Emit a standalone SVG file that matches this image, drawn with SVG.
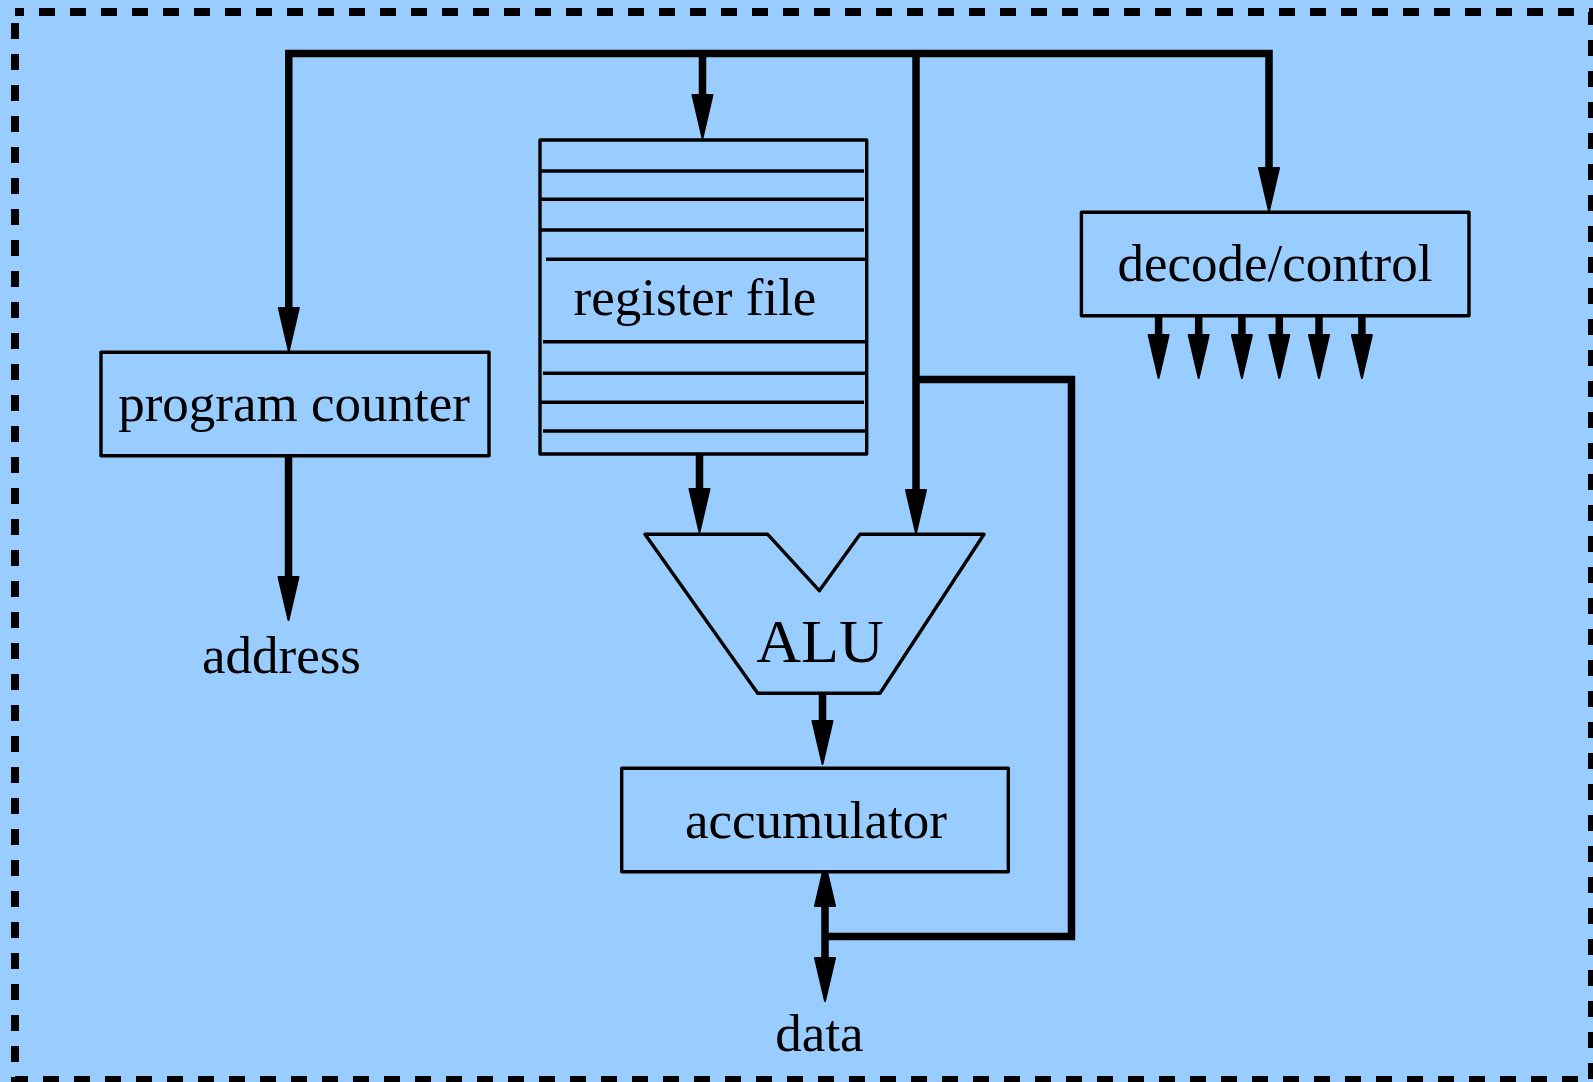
<svg xmlns="http://www.w3.org/2000/svg" width="1593" height="1082" viewBox="0 0 1593 1082">
  <style>
    .bg { fill: #99ccff; }
    .frame { fill: none; stroke: #000; stroke-width: 8; stroke-dasharray: 16 15; stroke-dashoffset: 7; }
    .box { fill: #99ccff; stroke: #000; stroke-width: 3.4; stroke-linejoin: round; }
    .rule { stroke: #000; stroke-width: 3.4; }
    .wire { fill: none; stroke: #000; stroke-width: 7.5; stroke-linejoin: miter; }
    .arrow { marker-end: url(#head); }
    .label { font-family: "Liberation Serif", "Times New Roman", serif; font-size: 53px; fill: #000; text-anchor: middle; }
    .big { font-size: 62px; }
  </style>
  <defs>
    <marker id="head" markerUnits="userSpaceOnUse" markerWidth="46" markerHeight="24" refX="0" refY="0" orient="auto-start-reverse" overflow="visible">
      <path d="M0,-10 L43,0 L0,10 z" fill="#000" stroke="#000" stroke-width="2" stroke-linejoin="round"/>
    </marker>
  </defs>

  <!-- background and dashed outline -->
  <rect class="bg" x="0" y="0" width="1593" height="1082"/>
  <rect class="frame" x="15" y="12" width="1577" height="1068"/>

  <!-- connectors (drawn first so the boxes sit on top) -->
  <g id="connectors">
    <!-- main bus: program counter on the left, decode/control on the right -->
    <path class="wire" d="M288.8,308 V53.5 H1269 V168" marker-start="url(#head)" marker-end="url(#head)"/>
    <!-- bus to register file -->
    <path class="wire arrow" d="M702.5,53.5 V95"/>
    <!-- bus to ALU right input -->
    <path class="wire arrow" d="M916,53.5 V490"/>
    <!-- bus branch down to the data line -->
    <path class="wire" d="M916,379.5 H1071.5 V936.5 H825"/>
    <!-- program counter to address -->
    <path class="wire arrow" d="M288.5,455 V577"/>
    <!-- register file to ALU left input -->
    <path class="wire arrow" d="M699.5,454 V489"/>
    <!-- ALU to accumulator -->
    <path class="wire arrow" d="M822.5,693 V721"/>
    <!-- accumulator <-> data -->
    <path class="wire" d="M825,906 V958" marker-start="url(#head)" marker-end="url(#head)"/>
    <!-- control outputs -->
    <path class="wire arrow" d="M1158.6,314 V335"/>
    <path class="wire arrow" d="M1198.7,314 V335"/>
    <path class="wire arrow" d="M1241.9,314 V335"/>
    <path class="wire arrow" d="M1279.3,314 V335"/>
    <path class="wire arrow" d="M1319,314 V335"/>
    <path class="wire arrow" d="M1361.9,314 V335"/>
  </g>

  <g id="program-counter">
    <rect class="box" x="101" y="352.3" width="388" height="103.4"/>
    <text class="label" x="294" y="421">program counter</text>
  </g>

  <g id="register-file">
    <rect class="box" x="540" y="140" width="326.7" height="314"/>
    <line class="rule" x1="541" y1="171" x2="864" y2="171"/>
    <line class="rule" x1="541" y1="199.3" x2="864" y2="199.3"/>
    <line class="rule" x1="541" y1="230" x2="864" y2="230"/>
    <line class="rule" x1="546" y1="259.3" x2="868" y2="259.3"/>
    <line class="rule" x1="543" y1="341.7" x2="867" y2="341.7"/>
    <line class="rule" x1="543" y1="373.3" x2="867" y2="373.3"/>
    <line class="rule" x1="541" y1="402.3" x2="864" y2="402.3"/>
    <line class="rule" x1="543" y1="431" x2="867" y2="431"/>
    <text class="label" x="695" y="315">register file</text>
  </g>

  <g id="decode-control">
    <rect class="box" x="1081.4" y="212.3" width="387.6" height="103.4"/>
    <text class="label" x="1275" y="281">decode/control</text>
  </g>

  <g id="alu">
    <polygon class="box" points="645,534.3 767.7,534.3 819.3,590.7 860,534.3 984,534.3 880,693.3 757.7,693.3"/>
    <text class="label big" x="820" y="662">ALU</text>
  </g>

  <g id="accumulator">
    <rect class="box" x="621.7" y="768.3" width="386.6" height="103.4"/>
    <text class="label" x="816" y="838">accumulator</text>
  </g>

  <g id="address">
    <text class="label" x="281.5" y="673">address</text>
  </g>

  <g id="data">
    <text class="label" x="819.5" y="1051">data</text>
  </g>
</svg>
